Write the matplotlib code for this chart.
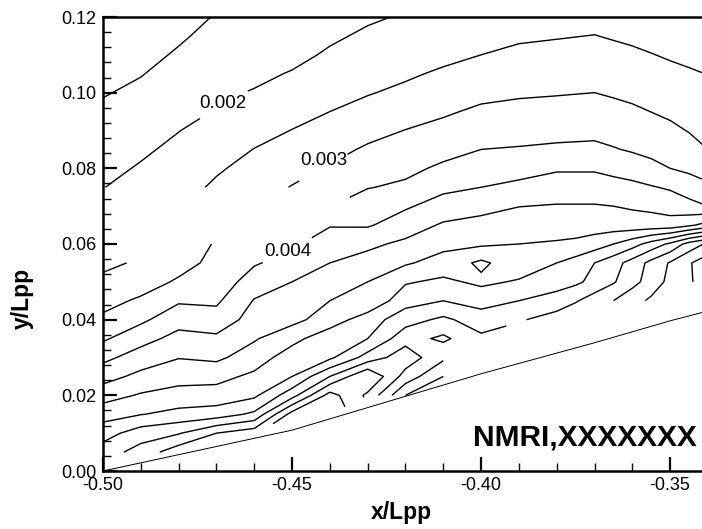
import numpy as np
import matplotlib.pyplot as plt
from matplotlib.ticker import MultipleLocator, FormatStrFormatter

plt.rcParams['font.family'] = ['Liberation Sans', 'DejaVu Sans']

n = np.nan

# measurement stations
x_stations = [-0.50, -0.49, -0.48, -0.47, -0.46, -0.45, -0.44, -0.43, -0.42,
              -0.41, -0.40, -0.39, -0.38, -0.375, -0.37, -0.365, -0.36,
              -0.355, -0.35, -0.345, -0.34]
# rows from top (0.120) to bottom (0.000)
y_rows = [0.120, 0.115, 0.110, 0.105, 0.100, 0.095, 0.090, 0.085, 0.080, 0.075,
          0.070, 0.065, 0.060, 0.055, 0.050, 0.045, 0.040, 0.035, 0.030, 0.025,
          0.020, 0.015, 0.010, 0.005, 0.000]

# field values in units of 1e-4, one list per station (top -> bottom), nan = no data
c50 = [10.7, 11.7, 12.7, 13.7, 14.7, 15.8, 16.8, 17.8, 18.8, 19.9, n, n, n, 29.0, 31.0, 33.3, 36.0, 39.3, 43.7, 48.1, 52.9, 58.0, 62.8, 67.5, n]
c49 = [11.4, 12.5, 13.7, 14.8, 15.9, 17.0, 18.1, 19.3, 20.4, 21.5, n, n, n, 30.6, 32.6, 35.8, 39.0, 43.2, 47.3, 51.3, 55.5, 59.8, 67.6, 72.0, n]
c48 = [13.3, 14.4, 15.5, 16.6, 17.7, 18.8, 19.9, 21.0, 22.0, 23.1, n, n, 31.0, 33.0, 35.7, 39.4, 43.1, 46.6, 49.8, 53.2, 56.8, 61.5, 69.6, 78.0, n]
c47 = [15.3, 16.3, 17.3, 18.2, 19.2, 20.2, 21.6, 23.0, 24.4, 25.8, n, n, 35.6, 36.5, 37.0, 39.2, 42.0, 46.0, 49.0, 53.5, 57.0, 62.5, 75.0, n, n]
c46 = [15.6, 16.8, 17.9, 19.0, 20.3, 21.9, 23.5, 25.1, 26.6, 28.1, n, n, 37.5, 39.5, 42.4, 45.3, 47.0, 49.5, 52.5, 56.0, 59.0, 66.0, 78.0, n, n]
c45 = [16.5, 17.6, 18.8, 20.3, 21.9, 23.5, 25.1, 26.8, 28.5, 30.2, n, 37.0, 39.2, 42.0, 45.0, 46.5, 48.5, 53.5, 57.5, 60.0, 68.0, 82.0, n, n, n]
c44 = [18.2, 19.3, 20.6, 22.1, 23.5, 25.0, 26.9, 28.6, 30.4, 32.2, n, 39.7, 42.5, 45.0, 47.5, 50.0, 52.5, 58.0, 59.0, 70.0, 82.0, 84.0, n, n, n]
c43 = [19.4, 20.7, 22.0, 23.4, 24.7, 26.6, 28.6, 30.6, 32.7, 34.8, 37.5, 39.5, 44.0, 46.8, 50.0, 51.0, 57.5, 60.0, 67.0, 80.0, 74.0, n, n, n, n]
c42 = [20.4, 21.7, 23.0, 24.3, 26.0, 28.0, 30.1, 32.0, 33.9, 35.8, 39.4, 42.5, 46.0, 49.4, 54.5, 58.0, 63.0, 68.0, 73.0, 68.0, 60.0, n, n, n, n]
c41 = [21.0, 22.4, 23.8, 25.7, 27.6, 29.4, 31.3, 33.5, 35.8, 38.9, 42.0, 45.6, 48.6, 52.0, 56.0, 60.0, 66.0, 71.0, 66.0, 60.0, n, n, n, n, n]
c40 = [21.8, 23.4, 25.0, 26.9, 28.8, 30.8, 32.9, 35.0, 37.5, 40.0, 43.5, 46.5, 49.2, 56.0, 54.0, 58.0, 62.5, 66.0, n, n, n, n, n, n, n]
c39 = [22.6, 24.3, 26.0, 27.6, 29.4, 31.3, 33.4, 35.3, 38.1, 41.2, 44.9, 47.5, 50.0, 52.0, 55.5, 60.0, 64.5, n, n, n, n, n, n, n, n]
c38 = [23.0, 24.7, 26.4, 28.1, 29.7, 31.5, 33.5, 35.8, 39.4, 42.5, 45.3, 47.8, 50.5, 55.0, 57.5, 62.5, 67.0, n, n, n, n, n, n, n, n]
c375 = [23.25, 24.9, 26.6, 28.3, 29.85, 31.7, 33.6, 35.95, 39.4, 42.5, 45.3, 47.7, 51.0, 57.0, 59.0, 64.5, 69.5, n, n, n, n, n, n, n, n]
c37 = [23.5, 25.1, 26.8, 28.5, 30.0, 31.9, 33.7, 36.1, 39.4, 42.5, 45.3, 47.6, 52.5, 60.0, 61.5, 67.5, n, n, n, n, n, n, n, n, n]
c365 = [23.0, 24.6, 26.3, 27.95, 29.5, 31.3, 33.15, 35.3, 38.5, 41.9, 45.0, 47.3, 55.0, 63.0, 64.5, 70.0, n, n, n, n, n, n, n, n, n]
c36 = [22.5, 24.1, 25.8, 27.4, 29.0, 30.7, 32.6, 34.5, 37.6, 41.3, 44.5, 47.0, 58.0, 67.0, 68.5, 73.0, n, n, n, n, n, n, n, n, n]
c355 = [22.0, 23.55, 25.15, 26.75, 28.3, 29.95, 31.75, 33.75, 36.3, 40.35, 44.0, 47.0, 62.0, 71.5, 72.0, 76.0, n, n, n, n, n, n, n, n, n]
c35 = [21.5, 23.0, 24.5, 26.1, 27.6, 29.2, 30.9, 33.0, 35.0, 39.4, 43.0, 47.0, 66.0, 75.5, 76.5, n, n, n, n, n, n, n, n, n, n]
c345 = [21.0, 22.45, 23.95, 25.5, 26.9, 28.35, 29.8, 31.5, 33.95, 37.65, 41.5, 49.0, 72.0, 79.5, 79.0, n, n, n, n, n, n, n, n, n, n]
c34 = [20.5, 21.9, 23.4, 24.9, 26.2, 27.5, 28.7, 30.0, 32.9, 35.9, 40.0, 52.0, 76.0, 83.0, 84.0, n, n, n, n, n, n, n, n, n, n]

columns = [c50, c49, c48, c47, c46, c45, c44, c43, c42, c41, c40, c39, c38,
           c375, c37, c365, c36, c355, c35, c345, c34]

plain_levels = [0.0015, 0.0025, 0.0035, 0.0045, 0.0050, 0.0055, 0.0060,
                0.0065, 0.0070, 0.0075, 0.0080, 0.0085]
label_levels = [0.002, 0.003, 0.004]
label_pos = [(-0.4685, 0.0976), (-0.443, 0.0826), (-0.4513, 0.0585)]

# hull surface
hull_x = [-0.50, -0.45, -0.40, -0.37, -0.35, -0.34]
hull_y = [0.0, 0.0108, 0.0257, 0.0339, 0.0397, 0.0423]

Z = np.array(columns).T * 1e-4
Z = np.ma.masked_invalid(Z[::-1])
ys = np.array(y_rows[::-1])
xs = np.array(x_stations)

fig = plt.figure(figsize=(7.02, 5.29), dpi=100)
ax = fig.add_axes([103 / 702, 58 / 529, 605 / 702, 454 / 529])

ax.contour(xs, ys, Z, levels=plain_levels, colors='black', linewidths=1.0,
           linestyles='solid')
cs_lab = ax.contour(xs, ys, Z, levels=label_levels, colors='black', linewidths=1.0,
                    linestyles='solid')
labels = ax.clabel(cs_lab, manual=label_pos, inline=True,
                   fmt='%.3f', fontsize=13.5, inline_spacing=4)
for t in labels:
    t.set_rotation(0)
    if t.get_text() == '0.003':
        t.set_y(t.get_position()[1] + 0.002)

ax.plot(hull_x, hull_y, color='black', linewidth=0.7)

ax.set_xlim(-0.50, -0.34)
ax.set_ylim(0.0, 0.12)

ax.xaxis.set_major_locator(MultipleLocator(0.05))
ax.xaxis.set_minor_locator(MultipleLocator(0.01))
ax.yaxis.set_major_locator(MultipleLocator(0.02))
ax.yaxis.set_minor_locator(MultipleLocator(0.004))
ax.xaxis.set_major_formatter(FormatStrFormatter('%.2f'))
ax.yaxis.set_major_formatter(FormatStrFormatter('%.2f'))
ax.tick_params(which='major', direction='in', length=10, width=1.6, labelsize=13, pad=4.5)
ax.tick_params(which='minor', direction='in', length=6, width=1.0)
ax.tick_params(top=False, right=False, which='both')

for s in ['left', 'bottom', 'top']:
    ax.spines[s].set_linewidth(1.8)
ax.spines['right'].set_visible(False)

fig.text(22 / 702, 1 - 298 / 529, 'y/Lpp', rotation=90, ha='center', va='center',
         fontsize=16.5, fontweight='bold')
fig.text(401 / 702, 1 - 512 / 529, 'x/Lpp', ha='center', va='center',
         fontsize=16.5, fontweight='bold')
fig.text(697 / 702, 1 - 445 / 529, 'NMRI,XXXXXXX', ha='right', va='baseline',
         fontsize=21.5, fontweight='bold')

fig.savefig('out.png', dpi=100)
